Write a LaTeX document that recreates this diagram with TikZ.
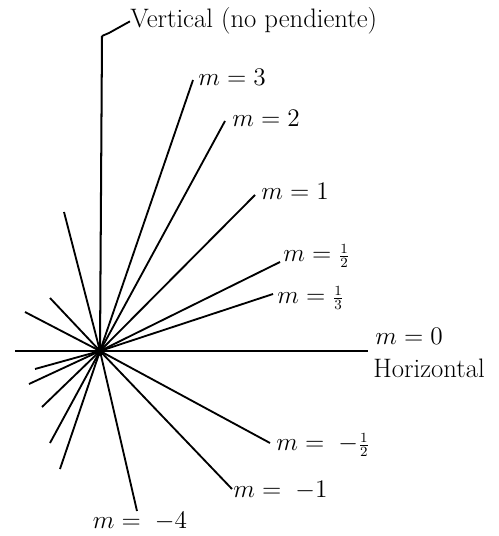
\documentclass[tikz,border=0pt]{standalone}
\usepackage{amsmath}
\usetikzlibrary{positioning}
\begin{document}
\begin{tikzpicture}[x=0.02cm,y=-0.02cm,font=\fontsize{15.2}{17}\selectfont,
  ray/.style={line width=1.05pt},
  lbl/.style={anchor=base west,inner sep=0pt}]
\useasboundingbox (0,0) rectangle (498,536);
\coordinate (O) at (100,351);
% axes: vertical (no slope) and horizontal
\coordinate (vtop) at (102,36);
\coordinate (vk) at (109,33);
\coordinate (hl) at (15,351);
\coordinate (hr) at (368,351);
\draw[line width=1.15pt] (O) -- (vtop);
\draw[line width=1.4pt] (hl) -- (hr);
\node[lbl] (vlab) at (130,28) {Vertical (no pendiente)};
\draw[ray] (vtop) -- (vk) -- (vlab.west);
\node[lbl] (m0) at (375,344) {$m = 0$};
\node[lbl] (hlab) at (373,377) {Horizontal};
% lines through the origin: name/upper end/lower end/label position/label
\foreach \n/\tx/\ty/\bx/\by/\lx/\ly/\lab in {
  p3/193/80/60/469/198/86/{$m = 3$},
  p2/225/121/50/443/232/127/{$m = 2$},
  p1/255/195/42/407/261/200/{$m = 1$},
  ph/280/262/29/384/283/261/{$m = {\scriptstyle\frac{1}{2}}$},
  pt/273/294/35/369/277/303/{$m = {\scriptstyle\frac{1}{3}}$},
  nh/270/443/25/312/276/450/{$m = \;-{\scriptstyle\frac{1}{2}}$},
  n1/232/489/50/298/233/497/{$m = \;-1$}}{
  \coordinate (t\n) at (\tx,\ty);
  \coordinate (b\n) at (\bx,\by);
  \draw[ray] (O) -- (t\n);
  \draw[ray] (O) -- (b\n);
  \node[lbl] (l\n) at (\lx,\ly) {\lab};
}
\coordinate (tn4) at (137,511);
\coordinate (bn4) at (64,212);
\draw[ray] (O) -- (tn4);
\draw[ray] (O) -- (bn4);
\node[anchor=base,inner sep=0pt] (ln4) at (140,528) {$m = \;-4$};
\fill (O) circle (0.1cm);
\end{tikzpicture}
\end{document}
